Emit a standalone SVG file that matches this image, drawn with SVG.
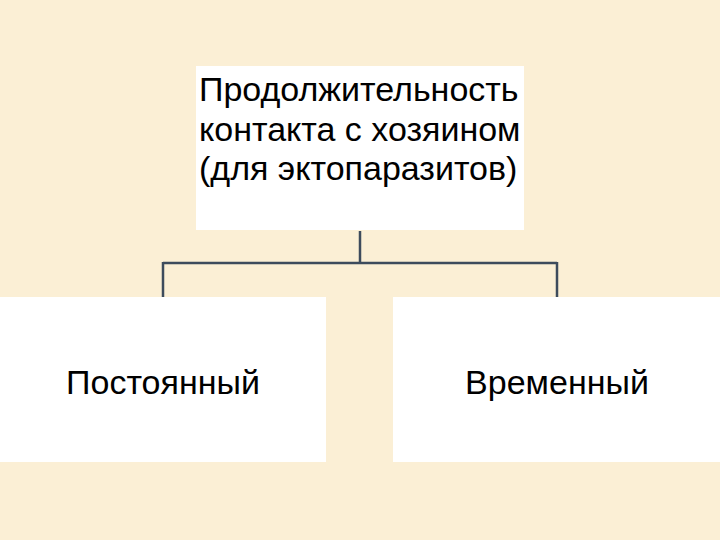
<svg xmlns="http://www.w3.org/2000/svg" width="720" height="540" viewBox="0 0 720 540">
<style>
.box{fill:#ffffff;}
.t{font-family:"Liberation Sans",Arial,sans-serif;font-size:34px;fill:#000000;}
.c{stroke:#3d4b5c;stroke-width:2.5;fill:none;}
</style>
<rect x="0" y="0" width="720" height="540" fill="#fbefd5"/>
<g id="root">
<rect class="box" x="196" y="66" width="328" height="164"/>
<text class="t" x="199" y="101">Продолжительность</text>
<text class="t" x="199" y="140.5">контакта с хозяином</text>
<text class="t" x="199" y="180">(для эктопаразитов)</text>
</g>
<g id="left">
<rect class="box" x="0" y="297" width="326" height="165"/>
<text class="t" x="163" y="394" text-anchor="middle">Постоянный</text>
</g>
<g id="right">
<rect class="box" x="393" y="297" width="327" height="165"/>
<text class="t" x="557" y="394" text-anchor="middle">Временный</text>
</g>
<g id="connectors">
<path class="c" d="M360 231 V263 M163 263 H557 M163 262 V297 M557 262 V297"/>
</g>
</svg>
